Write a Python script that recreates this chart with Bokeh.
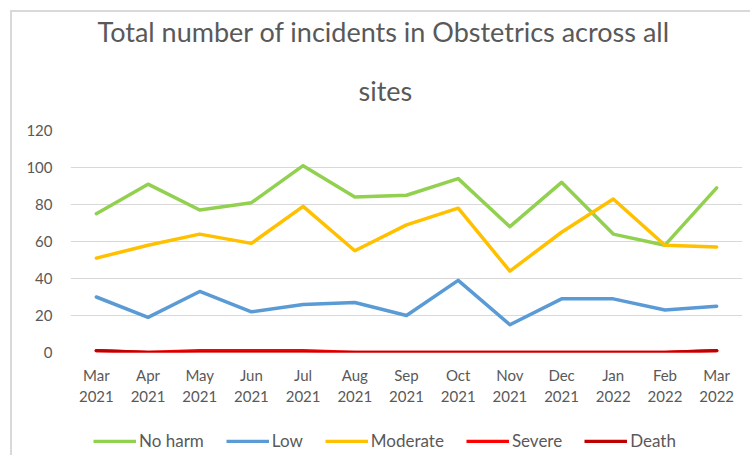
from bokeh.plotting import figure
from bokeh.models import Range1d, FixedTicker, Legend, LegendItem, Title
from bokeh.layouts import column
from bokeh.embed import file_html
from bokeh.resources import INLINE

months = ["Mar\n2021", "Apr\n2021", "May\n2021", "Jun\n2021", "Jul\n2021", "Aug\n2021",
          "Sep\n2021", "Oct\n2021", "Nov\n2021", "Dec\n2021", "Jan\n2022", "Feb\n2022", "Mar\n2022"]
no_harm = [75, 91, 77, 81, 101, 84, 85, 94, 68, 92, 64, 58, 89]
low = [30, 19, 33, 22, 26, 27, 20, 39, 15, 29, 29, 23, 25]
moderate = [51, 58, 64, 59, 79, 55, 69, 78, 44, 65, 83, 58, 57]
severe = [1, 0, 1, 1, 1, 0, 0, 0, 0, 0, 0, 0, 1]
death = [1, 0, 0, 0, 0, 0, 0, 0, 0, 0, 0, 0, 1]
y_ticks = [0, 20, 40, 60, 80, 100, 120]
title_lines = ["Total number of incidents in Obstetrics across all", "sites"]

series = [("No harm", no_harm, "#92D050"), ("Low", low, "#5B9BD5"),
          ("Moderate", moderate, "#FFC000"), ("Severe", severe, "#FF0000"),
          ("Death", death, "#C00000")]

xs = list(range(len(months)))
FONT = "Lato"
GREY = "#595959"
BORDER = "2px solid #D9D9D9"

p = figure(frame_width=670, frame_height=220, output_backend="svg", toolbar_location=None,
           x_range=Range1d(-0.5, len(months) - 0.5), y_range=Range1d(0, 120),
           min_border_left=58, min_border_right=10, min_border_top=112, min_border_bottom=60)

def style_title(t):
    t.align = "left"
    t.text_font = FONT
    t.text_font_size = "27px"
    t.text_font_style = "normal"
    t.text_color = GREY

p.title.text = title_lines[0]
style_title(p.title)
p.title.standoff = 0
p.title.offset = 27
t2 = Title(text=title_lines[1])
style_title(t2)
t2.standoff = 48
t2.offset = 288
p.add_layout(t2, "above")

p.outline_line_color = None
p.xgrid.grid_line_color = None
p.ygrid.grid_line_color = "#D9D9D9"
p.ygrid.grid_line_width = 1.2
p.yaxis.ticker = FixedTicker(ticks=y_ticks)
p.xaxis.ticker = FixedTicker(ticks=xs)
p.xaxis.major_label_overrides = {i: m for i, m in enumerate(months)}

for ax in (p.xaxis[0], p.yaxis[0]):
    ax.axis_line_color = None
    ax.major_tick_line_color = None
    ax.minor_tick_line_color = None
    ax.major_label_text_font = FONT
    ax.major_label_text_font_size = "15px"
    ax.major_label_text_color = GREY
p.yaxis.major_label_standoff = 12
p.xaxis.major_label_standoff = 7

for name, vals, col in series:
    p.line(xs, vals, line_color=col, line_width=3.5, line_join="round", line_cap="round")

# legend strip underneath (its own small figure, lines kept out of view)
lg = figure(width=738, height=45, output_backend="svg", toolbar_location=None,
            x_range=Range1d(-0.5, len(months) - 0.5), y_range=Range1d(1000, 1001),
            min_border=0)
lg.axis.visible = False
lg.grid.visible = False
lg.outline_line_color = None
items = []
for name, vals, col in series:
    r = lg.line(xs, vals, line_color=col, line_width=3.5)
    items.append(LegendItem(label=name, renderers=[r]))
legend = Legend(items=items, orientation="horizontal", location=(23, 4),
                glyph_width=43, glyph_height=4, label_standoff=3, spacing=22,
                label_text_font=FONT, label_text_font_size="17px", label_text_color=GREY,
                border_line_color=None, background_fill_alpha=0, padding=0, margin=0)
lg.add_layout(legend, "center")

p.styles = {"margin-left": "10px", "margin-top": "10px",
            "border-left": BORDER, "border-top": BORDER}
lg.styles = {"margin-left": "10px", "border-left": BORDER}

layout = column(p, lg, spacing=0)
open("out.html", "w").write(file_html(layout, INLINE))
